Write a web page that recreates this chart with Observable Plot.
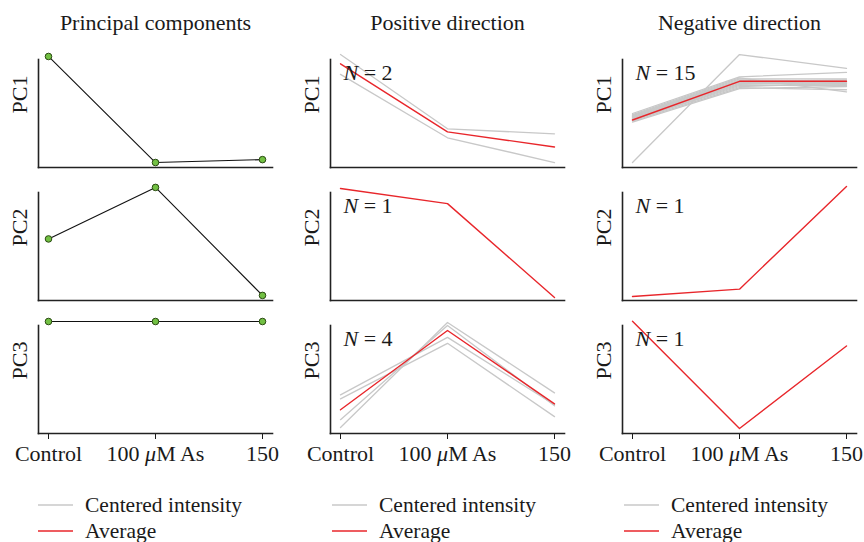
<!DOCTYPE html>
<html><head><meta charset="utf-8">
<script src="https://cdn.jsdelivr.net/npm/d3@7"></script>
<script src="https://cdn.jsdelivr.net/npm/@observablehq/plot@0.6"></script>
<style>
body{margin:0;background:#fff;}
#chart{position:relative;width:864px;height:542px;overflow:hidden;font-family:"Liberation Serif",serif;color:#1a1a1a;}
#chart svg.plot{position:absolute;left:0;top:0;}
.legend{position:absolute;top:492px;font-size:21.5px;line-height:24px;}
.legend .row{display:flex;align-items:center;height:26px;white-space:nowrap;}
.legend .row svg{margin-right:12px;}
</style></head><body><div id="chart"></div>
<script>
const columns = ["Principal components", "Positive direction", "Negative direction"];
const rows = ["PC1", "PC2", "PC3"];
const conditions = ["Control", "100 μM As", "150"];

// values in panel units: 0 = x axis, 100 = top of the y axis line
// Principal components (column 1)
const pcPC1 = [102.8, 4.6, 7.3];
const pcPC2 = [57, 104.7, 4.7];
const pcPC3 = [103.7, 103.7, 103.7];

// Positive direction (column 2)
const posPC1Lines = [[104.6, 35.8, 31.2], [86.2, 27.5, 4.6]];
const posPC1Avg = [96, 33, 19];
const posPC2Avg = [103.7, 89.7, 2.8];
const posPC3Lines = [[35.8, 89, 26.6], [32.1, 83.5, 15.6], [12.8, 100, 25.7], [5.5, 102.8, 37.6]];
const posPC3Avg = [22, 95.4, 27.5];

// Negative direction (column 3)
const negPC1Lines = [
  [4.6, 104.6, 91.7],
  [50, 84, 88], [49, 83, 70], [48, 82, 82], [48, 81, 80], [47, 80, 79],
  [47, 80, 81], [46, 79, 78], [46, 79, 80], [45, 78, 77], [45, 77, 79],
  [44, 76, 76], [44, 75, 78], [43, 74, 72], [42, 73, 75]
];
const negPC1Avg = [44, 79.8, 79.8];
const negPC2Avg = [3.7, 10.5, 105.6];
const negPC3Avg = [104, 4.6, 81];

const counts = [2, 1, 4, 15, 1, 1]; // positive PC1..PC3, negative PC1..PC3

// build tables
function series(values, col, row, id) {
  return values.map((v, i) => ({col: columns[col], row: rows[row], id, cond: conditions[i], value: v}));
}
const pcData = [
  ...series(pcPC1, 0, 0, "pc1"), ...series(pcPC2, 0, 1, "pc2"), ...series(pcPC3, 0, 2, "pc3")
];
const grayData = [
  ...posPC1Lines.flatMap((l, k) => series(l, 1, 0, "p1-" + k)),
  ...posPC3Lines.flatMap((l, k) => series(l, 1, 2, "p3-" + k)),
  ...negPC1Lines.flatMap((l, k) => series(l, 2, 0, "n1-" + k))
];
const redData = [
  ...series(posPC1Avg, 1, 0, "pa1"), ...series(posPC2Avg, 1, 1, "pa2"), ...series(posPC3Avg, 1, 2, "pa3"),
  ...series(negPC1Avg, 2, 0, "na1"), ...series(negPC2Avg, 2, 1, "na2"), ...series(negPC3Avg, 2, 2, "na3")
];
const countData = counts.map((n, i) => ({col: columns[1 + Math.floor(i / 3)], row: rows[i % 3], label: "N = " + n}));
const rowLabels = columns.flatMap(c => rows.map(r => ({col: c, row: r})));

const GRAY = "#c8c8c8", RED = "#e8262b", AXIS = "#222";

const plot = Plot.plot({
  width: 864,
  height: 480,
  marginTop: 58,
  marginLeft: 37,
  marginRight: 7,
  marginBottom: 46,
  style: {fontFamily: "Liberation Serif, serif", fontSize: "22px", color: "#1a1a1a", background: "transparent"},
  fx: {domain: columns, paddingInner: 0.2, paddingOuter: 0, axis: "top", tickSize: 0, tickPadding: 30, label: null},
  fy: {domain: rows, paddingInner: 0.19, paddingOuter: 0, axis: null},
  x: {type: "point", domain: conditions, padding: 0, insetLeft: 10, insetRight: 10, tickSize: 6, tickPadding: 6, label: null},
  y: {domain: [0, 100], axis: null},
  marks: [
    Plot.frame({anchor: "left", stroke: AXIS, strokeWidth: 1.6}),
    Plot.frame({anchor: "bottom", stroke: AXIS, strokeWidth: 1.6}),
    Plot.line(grayData, {x: "cond", y: "value", z: "id", fx: "col", fy: "row", stroke: GRAY, strokeWidth: 1.3}),
    Plot.line(redData, {x: "cond", y: "value", z: "id", fx: "col", fy: "row", stroke: RED, strokeWidth: 1.4}),
    Plot.line(pcData, {x: "cond", y: "value", z: "id", fx: "col", fy: "row", stroke: "#111", strokeWidth: 1.1}),
    Plot.dot(pcData, {x: "cond", y: "value", fx: "col", fy: "row", r: 3.3, fill: "#72c043", stroke: "#2a4a12", strokeWidth: 1}),
    Plot.text(countData, {fx: "col", fy: "row", text: "label", frameAnchor: "top-left", textAnchor: "start", lineAnchor: "top", dx: 13, dy: 5, fill: "#1a1a1a"}),
    Plot.text(rowLabels, {fx: "col", fy: "row", text: "row", frameAnchor: "left", rotate: -90, dx: -19, fill: "#1a1a1a"})
  ]
});
plot.classList.add("plot");

// italic glyphs (N, μ)
d3.select(plot).selectAll("text").each(function() {
  const t = this.textContent;
  if (t === "100 μM As") {
    this.textContent = "";
    const s = d3.select(this);
    s.append("tspan").text("100 ");
    s.append("tspan").attr("font-style", "italic").text("μ");
    s.append("tspan").text("M As");
  } else if (/^N = /.test(t)) {
    this.textContent = "";
    const s = d3.select(this);
    s.append("tspan").attr("font-style", "italic").text("N");
    s.append("tspan").text(t.slice(1));
  }
});

const chart = document.getElementById("chart");
chart.appendChild(plot);

// legends under each column
const legendItems = [{label: "Centered intensity", color: GRAY}, {label: "Average", color: RED}];
const legendLeft = [38, 332, 624];
legendLeft.forEach(left => {
  const lg = d3.select(chart).append("div").attr("class", "legend").style("left", left + "px");
  legendItems.forEach(item => {
    const row = lg.append("div").attr("class", "row");
    const sw = row.append("svg").attr("width", 35).attr("height", 4);
    sw.append("line").attr("x1", 0).attr("x2", 35).attr("y1", 2).attr("y2", 2)
      .attr("stroke", item.color).attr("stroke-width", 1.5);
    row.append("span").text(item.label);
  });
});
</script></body></html>
